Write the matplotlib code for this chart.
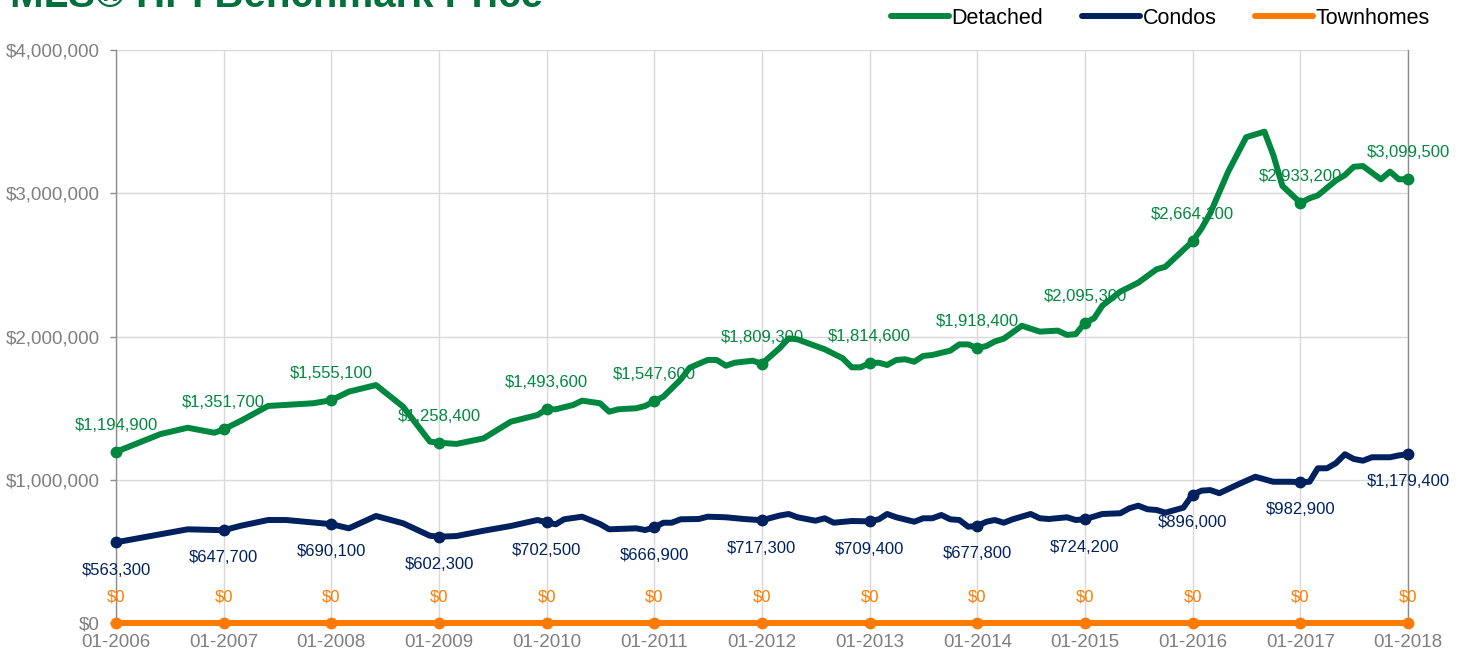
import pandas as pd
import matplotlib
matplotlib.use('Agg')
import matplotlib.pyplot as plt
import matplotlib.dates as mdates
from matplotlib.ticker import FuncFormatter, MultipleLocator
from matplotlib.lines import Line2D

plt.rcParams['font.family'] = ['Liberation Sans', 'DejaVu Sans']

# benchmark prices (vertices of each line)
detached_dates = [
    '2006-01', '2006-06', '2006-09', '2006-12', '2007-01', '2007-03', '2007-06', '2007-11',
    '2008-01', '2008-03', '2008-06', '2008-09', '2008-12', '2009-01', '2009-03', '2009-06',
    '2009-09', '2009-12', '2010-01', '2010-02', '2010-04', '2010-05', '2010-07', '2010-08',
    '2010-09', '2010-11', '2010-12', '2011-01', '2011-02', '2011-04', '2011-05', '2011-07',
    '2011-08', '2011-09', '2011-10', '2011-12', '2012-01', '2012-03', '2012-04', '2012-05',
    '2012-07', '2012-08', '2012-10', '2012-11', '2012-12', '2013-01', '2013-02', '2013-03',
    '2013-04', '2013-05', '2013-06', '2013-07', '2013-08', '2013-10', '2013-11', '2013-12',
    '2014-01', '2014-02', '2014-03', '2014-04', '2014-06', '2014-08', '2014-10', '2014-11',
    '2014-12', '2015-01', '2015-02', '2015-03', '2015-05', '2015-07', '2015-09', '2015-10',
    '2016-01', '2016-02', '2016-03', '2016-05', '2016-07', '2016-09', '2016-10', '2016-11',
    '2017-01', '2017-02', '2017-03', '2017-05', '2017-06', '2017-07', '2017-08', '2017-10',
    '2017-11', '2017-12', '2018-01',
]
detached = [
    1194900, 1319000, 1363000, 1328000, 1351700, 1412000, 1515000, 1534000,
    1555100, 1615000, 1661000, 1510000, 1266000, 1258400, 1250000, 1289000,
    1405000, 1452000, 1493600, 1492000, 1522000, 1552000, 1534000, 1475000,
    1492000, 1499000, 1515000, 1547600, 1580000, 1700000, 1782000, 1836000,
    1836000, 1796000, 1817000, 1831000, 1809300, 1918000, 1987000, 1980000,
    1934000, 1911000, 1848000, 1785000, 1785000, 1814600, 1817000, 1801000,
    1836000, 1841000, 1824000, 1864000, 1871000, 1901000, 1945000, 1945000,
    1918400, 1934000, 1965000, 1985000, 2075000, 2034000, 2041000, 2011000,
    2017000, 2095300, 2127000, 2215000, 2313000, 2376000, 2469000, 2487000,
    2664100, 2755000, 2860000, 3151000, 3391000, 3430000, 3267000, 3051000,
    2933200, 2965000, 2985000, 3088000, 3127000, 3185000, 3190000, 3097000,
    3151000, 3097000, 3099500,
]

condo_dates = [
    '2006-01', '2006-09', '2007-01', '2007-03', '2007-06', '2007-08', '2008-01', '2008-03',
    '2008-06', '2008-09', '2008-12', '2009-01', '2009-03', '2009-06', '2009-09', '2009-12',
    '2010-01', '2010-02', '2010-03', '2010-05', '2010-07', '2010-08', '2010-11', '2010-12',
    '2011-01', '2011-02', '2011-03', '2011-04', '2011-06', '2011-07', '2011-09', '2011-11',
    '2012-01', '2012-03', '2012-04', '2012-05', '2012-07', '2012-08', '2012-09', '2012-11',
    '2013-01', '2013-02', '2013-03', '2013-04', '2013-06', '2013-07', '2013-08', '2013-09',
    '2013-10', '2013-11', '2013-12', '2014-01', '2014-02', '2014-03', '2014-04', '2014-05',
    '2014-07', '2014-08', '2014-09', '2014-11', '2014-12', '2015-01', '2015-03', '2015-05',
    '2015-06', '2015-07', '2015-08', '2015-09', '2015-10', '2015-12', '2016-01', '2016-02',
    '2016-03', '2016-04', '2016-06', '2016-08', '2016-10', '2016-12', '2017-01', '2017-02',
    '2017-03', '2017-04', '2017-05', '2017-06', '2017-07', '2017-08', '2017-09', '2017-11',
    '2017-12', '2018-01',
]
condos = [
    563300, 654000, 647700, 679000, 719000, 719000, 690100, 661000,
    747000, 696000, 609000, 602300, 607000, 644000, 677000, 719000,
    702500, 689000, 724000, 742000, 691000, 654000, 661000, 649000,
    666900, 700000, 700000, 724000, 726000, 742000, 738000, 726000,
    717300, 750000, 761000, 738000, 714000, 731000, 700000, 712000,
    709400, 724000, 761000, 738000, 707000, 731000, 731000, 754000,
    724000, 719000, 672000, 677800, 707000, 719000, 700000, 724000,
    761000, 731000, 726000, 738000, 719000, 724200, 761000, 766000,
    801000, 819000, 794000, 789000, 770000, 805000, 896000, 924000,
    928000, 906000, 965000, 1021000, 986000, 986000, 982900, 986000,
    1080000, 1080000, 1115000, 1178000, 1145000, 1133000, 1157000, 1157000,
    1170000, 1179400,
]

townhome_dates = ['%d-01' % y for y in range(2006, 2019)]
townhomes = [0] * 13

series = [
    ('Detached', detached_dates, detached, '#00873F', 19),
    ('Condos', condo_dates, condos, '#00215E', -20),
    ('Townhomes', townhome_dates, townhomes, '#FF7A00', 19),
]

fig = plt.figure(figsize=(14.64, 6.58), dpi=100, facecolor='white')
ax = fig.add_axes([116 / 1464, 1 - 623 / 658, (1408 - 116) / 1464, (623 - 50) / 658])

for name, dates, values, color, offset in series:
    x = pd.to_datetime(dates)
    ax.plot(x, values, color=color, linewidth=4.3, solid_joinstyle='round',
            solid_capstyle='round', clip_on=False, zorder=3)
    for d, v in zip(x, values):
        if d.month != 1:
            continue
        ax.plot(d, v, 'o', color=color, markersize=7.5, clip_on=False, zorder=4)
        ax.annotate('${:,.0f}'.format(v), (d, v), xytext=(0, offset),
                    textcoords='offset points', ha='center', va='center',
                    fontsize=12, color=color, annotation_clip=False, zorder=5)

ax.set_xlim(pd.Timestamp('2006-01-01'), pd.Timestamp('2018-01-01'))
ax.set_ylim(0, 4000000)
ax.xaxis.set_major_locator(mdates.YearLocator())
ax.xaxis.set_major_formatter(mdates.DateFormatter('%m-%Y'))
ax.yaxis.set_major_locator(MultipleLocator(1000000))
ax.yaxis.set_major_formatter(FuncFormatter(lambda v, p: '${:,.0f}'.format(v)))

ax.grid(True, color='#D9D9D9', linewidth=1.0)
ax.set_axisbelow(True)
ax.tick_params(axis='x', length=0, pad=8, labelsize=13.5, labelcolor='#7F7F7F')
ax.tick_params(axis='y', length=4.5, width=1, color='#8C8C8C', pad=7,
               labelsize=13.5, labelcolor='#7F7F7F')
ax.spines['top'].set_visible(False)
ax.spines['bottom'].set_visible(False)
for side in ('left', 'right'):
    ax.spines[side].set_color('#8C8C8C')
    ax.spines[side].set_linewidth(1.0)

fig.text(10 / 1464, 1 - 7 / 658, 'MLS\u00ae HPI Benchmark Price', fontsize=29,
         fontweight='bold', color='#00703C', ha='left', va='baseline')

handles = [Line2D([], [], color=c, linewidth=4.3, solid_capstyle='round')
           for _, _, _, c, _ in series]
fig.legend(handles, [s[0] for s in series], loc='center right',
           bbox_to_anchor=(1430 / 1464, 1 - 18 / 658), ncol=3, frameon=False,
           fontsize=15.5, handlelength=2.7, handletextpad=0.12, columnspacing=1.8,
           borderpad=0, borderaxespad=0)

fig.savefig('out.png', dpi=100, facecolor='white')
